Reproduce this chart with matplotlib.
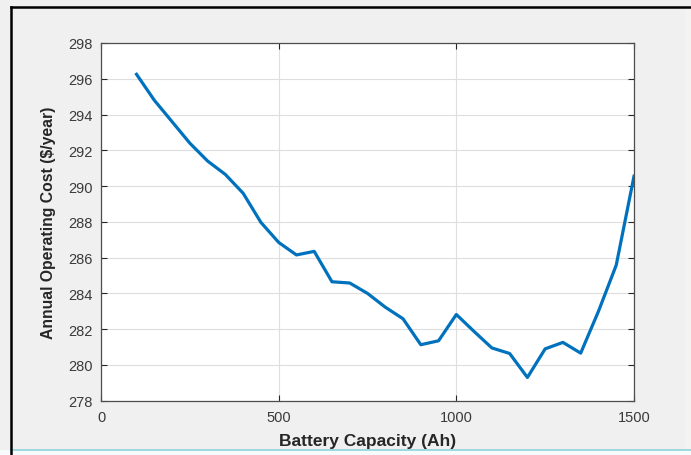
import matplotlib
matplotlib.use("Agg")
import matplotlib.pyplot as plt
from matplotlib.lines import Line2D
from matplotlib.patches import Rectangle

capacity = [100, 150, 200, 250, 300, 350, 400, 450, 500, 550, 600, 650, 700, 750, 800,
            850, 900, 950, 1000, 1050, 1100, 1150, 1200, 1250, 1300, 1350, 1400, 1450, 1500]
cost = [296.25, 294.8, 293.6, 292.4, 291.4, 290.65, 289.6, 287.97, 286.85, 286.15, 286.35,
        284.65, 284.58, 284.0, 283.23, 282.58, 281.13, 281.35, 282.82, 281.87, 280.95,
        280.64, 279.3, 280.9, 281.26, 280.66, 283.0, 285.58, 290.55]

xticks = [0, 500, 1000, 1500]
yticks = [278, 280, 282, 284, 286, 288, 290, 292, 294, 296, 298]

plt.rcParams['font.family'] = ['Liberation Sans', 'DejaVu Sans']

W, H = 691, 456
fig = plt.figure(figsize=(W / 100, H / 100), dpi=100, facecolor='#f0f0f0')

# window frame bits (pixel coords -> figure fraction)
def px(x, y):
    return x / W, 1 - y / H

fig.patches.append(Rectangle((0, 0), 1, 1 - 451 / H, transform=fig.transFigure,
                             facecolor='#f6fbfc', edgecolor='none', zorder=0))
fig.patches.append(Rectangle((685 / W, 1 - 451 / H), 6 / W, (451 - 9) / H, transform=fig.transFigure,
                             facecolor='#f5f3f1', edgecolor='none', zorder=0))
fig.lines.append(Line2D([px(11, 0)[0], 1], [px(0, 451)[1]] * 2, transform=fig.transFigure,
                        color='#8fd3da', linewidth=1.2))
fig.lines.append(Line2D([px(11, 0)[0], 1], [px(0, 8)[1]] * 2, transform=fig.transFigure,
                        color='black', linewidth=1.8))
fig.lines.append(Line2D([px(11, 0)[0]] * 2, [0, px(0, 8)[1]], transform=fig.transFigure,
                        color='black', linewidth=1.8))

ax = fig.add_axes([101 / W, 1 - 401.7 / H, (634 - 101) / W, (401.7 - 44) / H])
ax.set_facecolor('white')
ax.plot(capacity, cost, color='#0072BD', linewidth=2.3, solid_joinstyle='round')

ax.set_xlim(0, 1500)
ax.set_ylim(278, 298)
ax.set_xticks(xticks)
ax.set_yticks(yticks)
ax.grid(True, color='#dedede', linewidth=0.8)
ax.set_axisbelow(True)
ax.tick_params(direction='in', top=True, right=True, length=4, width=0.8,
               colors='#262626', labelsize=10.5, labelcolor='#3a3a3a')
ax.tick_params(axis='x', pad=7)
ax.tick_params(axis='y', pad=6)
for s in ax.spines.values():
    s.set_color('#4d4d4d')
    s.set_linewidth(0.9)

ax.set_xlabel('Battery Capacity (Ah)', fontsize=12.5, fontweight='bold', color='#262626', labelpad=6)
ax.set_ylabel('Annual Operating Cost ($/year)', fontsize=11.3, fontweight='bold', color='#262626', labelpad=8.5)

fig.savefig('out.png', dpi=100, facecolor=fig.get_facecolor())
